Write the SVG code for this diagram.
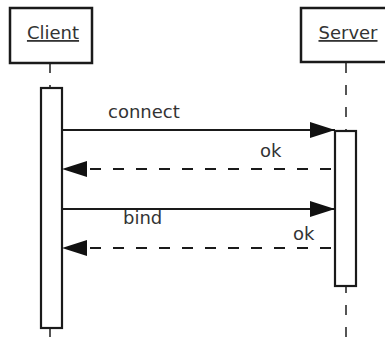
<svg xmlns="http://www.w3.org/2000/svg" width="385" height="345" viewBox="0 0 385 345">
  <defs>
    <style>
      .box { fill: #ffffff; stroke: #1a1a1a; stroke-width: 2.5; }
      .act { fill: #ffffff; stroke: #1a1a1a; stroke-width: 2.2; }
      .life { stroke: #555555; stroke-width: 2; stroke-dasharray: 10 12; fill: none; }
      .msg { stroke: #1a1a1a; stroke-width: 2.2; fill: none; marker-end: url(#head); }
      .ret { stroke-dasharray: 11 12; }
      .lbl { font-family: "DejaVu Sans", sans-serif; font-size: 18px; fill: #333333; }
      .name { text-decoration: underline; text-anchor: middle; }
    </style>
    <marker id="head" markerUnits="userSpaceOnUse" markerWidth="26" markerHeight="18" refX="25" refY="8" orient="auto">
      <path d="M0,0 L25,8 L0,16 z" fill="#111111"/>
    </marker>
  </defs>

  <!-- lifelines -->
  <g id="lifelines">
    <line class="life" x1="50" y1="63" x2="50" y2="345"/>
    <line class="life" x1="346" y1="63" x2="346" y2="345"/>
  </g>

  <g id="client">
    <rect class="box" x="10" y="8" width="82" height="55"/>
    <text class="lbl name" x="53" y="39">Client</text>
    <rect class="act" x="41" y="88" width="21" height="240"/>
  </g>

  <g id="server">
    <rect class="box" x="301" y="8" width="92" height="54"/>
    <text class="lbl name" x="348" y="39">Server</text>
    <rect class="act" x="335" y="131" width="21" height="155"/>
  </g>

  <!-- messages -->
  <g id="connectors">
    <line class="msg" x1="62" y1="130" x2="335" y2="130"/>
    <line class="msg ret" x1="331" y1="169" x2="62" y2="169"/>
    <line class="msg" x1="62" y1="209" x2="335" y2="209"/>
    <line class="msg ret" x1="331" y1="248" x2="62" y2="248"/>
    <text class="lbl" x="108" y="118">connect</text>
    <text class="lbl" x="260" y="157">ok</text>
    <text class="lbl" x="123" y="224">bind</text>
    <text class="lbl" x="293" y="240">ok</text>
  </g>
</svg>
